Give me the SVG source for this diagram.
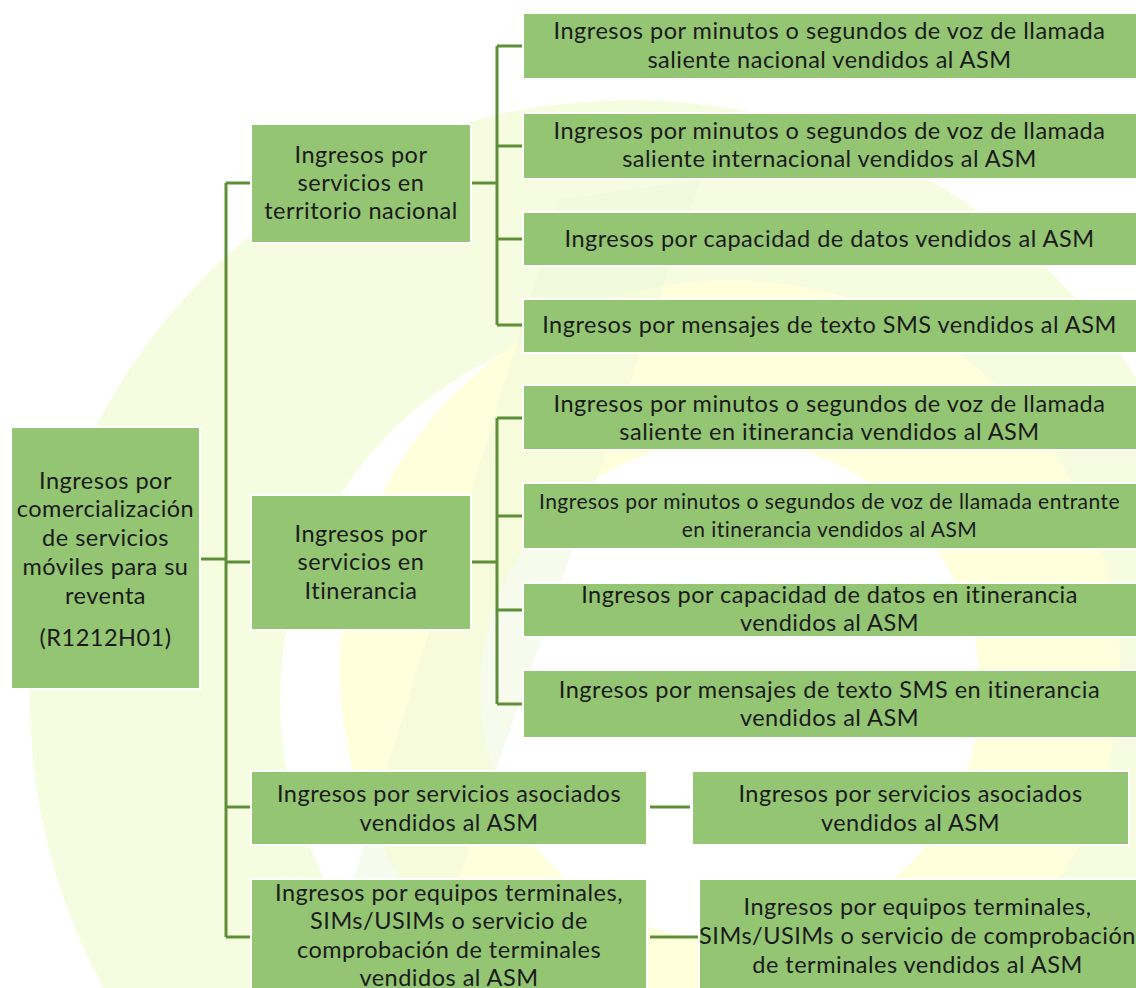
<svg xmlns="http://www.w3.org/2000/svg" width="1136" height="988" viewBox="0 0 1136 988">
<style>
.box{fill:#93c572;stroke:#ffffff;stroke-width:2}
.t{font-family:Lato,"Liberation Sans",sans-serif;font-size:23.5px;letter-spacing:0.5px;fill:#1a1a1a;text-anchor:middle}
.s{font-size:21px;letter-spacing:0.45px}
.c{fill:none;stroke:#5e8f38;stroke-width:3}
</style>
<rect width="1136" height="988" fill="#ffffff"/>
<g id="watermark">
<circle cx="630" cy="700" r="600" fill="#f6fcdf"/>
<circle cx="660" cy="700" r="380" fill="#ffffff"/>
<circle cx="730" cy="670" r="390" fill="#ffffdc"/>
<circle cx="730" cy="690" r="250" fill="#ffffff"/>
<path d="M560 200 L700 180 L420 990 L320 990 Z" fill="#edf8dc" opacity="0.5"/>
</g>
<g id="connectors">
<path class="c" d="M200 559 H226 M226 183 V937 M226 183 H251 M226 562 H251 M226 807 H251 M226 937 H251"/>
<path class="c" d="M471 183 H497 M497 46 V325 M497 46 H522 M497 146 H522 M497 239 H522 M497 325 H522"/>
<path class="c" d="M471 562 H497 M497 418 V704 M497 418 H522 M497 516 H522 M497 610 H522 M497 704 H522"/>
<path class="c" d="M650 807 H690"/>
<path class="c" d="M650 937 H698"/>
</g>
<g id="root">
<rect class="box" x="11" y="427" width="189" height="262"/>
<text class="t"><tspan x="105.5" y="489">Ingresos por</tspan><tspan x="105.5" y="517">comercialización</tspan><tspan x="105.5" y="546">de servicios</tspan><tspan x="105.5" y="575">móviles para su</tspan><tspan x="105.5" y="604">reventa</tspan><tspan x="105.5" y="646">(R1212H01)</tspan></text>
</g>
<g id="nacional">
<rect class="box" x="251" y="124" width="220" height="119"/>
<text class="t"><tspan x="361" y="163">Ingresos por</tspan><tspan x="361" y="191">servicios en</tspan><tspan x="361" y="219">territorio nacional</tspan></text>
</g>
<g id="itinerancia">
<rect class="box" x="251" y="495" width="220" height="135"/>
<text class="t"><tspan x="361" y="542">Ingresos por</tspan><tspan x="361" y="570">servicios en</tspan><tspan x="361" y="599">Itinerancia</tspan></text>
</g>
<g id="asociados">
<rect class="box" x="251" y="771" width="396" height="74"/>
<text class="t"><tspan x="449" y="802">Ingresos por servicios asociados</tspan><tspan x="449" y="831">vendidos al ASM</tspan></text>
</g>
<g id="equipos">
<rect class="box" x="251" y="879" width="396" height="115"/>
<text class="t"><tspan x="449" y="901">Ingresos por equipos terminales,</tspan><tspan x="449" y="929">SIMs/USIMs o servicio de</tspan><tspan x="449" y="958">comprobación de terminales</tspan><tspan x="449" y="986">vendidos al ASM</tspan></text>
</g>
<g id="leaf1">
<rect class="box" x="523" y="13" width="616" height="66"/>
<text class="t"><tspan x="829.5" y="39">Ingresos por minutos o segundos de voz de llamada</tspan><tspan x="829.5" y="68">saliente nacional vendidos al ASM</tspan></text>
</g>
<g id="leaf2">
<rect class="box" x="523" y="113" width="616" height="66"/>
<text class="t"><tspan x="829.5" y="139">Ingresos por minutos o segundos de voz de llamada</tspan><tspan x="829.5" y="167">saliente internacional vendidos al ASM</tspan></text>
</g>
<g id="leaf3">
<rect class="box" x="523" y="212" width="616" height="54"/>
<text class="t" x="829.5" y="247">Ingresos por capacidad de datos vendidos al ASM</text>
</g>
<g id="leaf4">
<rect class="box" x="523" y="299" width="616" height="54"/>
<text class="t" x="829.5" y="333">Ingresos por mensajes de texto SMS vendidos al ASM</text>
</g>
<g id="leaf5">
<rect class="box" x="523" y="385" width="616" height="65"/>
<text class="t"><tspan x="829.5" y="412">Ingresos por minutos o segundos de voz de llamada</tspan><tspan x="829.5" y="440">saliente en itinerancia vendidos al ASM</tspan></text>
</g>
<g id="leaf6">
<rect class="box" x="523" y="483" width="616" height="66"/>
<text class="t s"><tspan x="829.5" y="509">Ingresos por minutos o segundos de voz de llamada entrante</tspan><tspan x="829.5" y="537">en itinerancia vendidos al ASM</tspan></text>
</g>
<g id="leaf7">
<rect class="box" x="523" y="583" width="616" height="54"/>
<text class="t"><tspan x="829.5" y="603">Ingresos por capacidad de datos en itinerancia</tspan><tspan x="829.5" y="631">vendidos al ASM</tspan></text>
</g>
<g id="leaf8">
<rect class="box" x="523" y="670" width="616" height="68"/>
<text class="t"><tspan x="829.5" y="698">Ingresos por mensajes de texto SMS en itinerancia</tspan><tspan x="829.5" y="726">vendidos al ASM</tspan></text>
</g>
<g id="asociados-leaf">
<rect class="box" x="692" y="771" width="437" height="74"/>
<text class="t"><tspan x="910.5" y="802">Ingresos por servicios asociados</tspan><tspan x="910.5" y="831">vendidos al ASM</tspan></text>
</g>
<g id="equipos-leaf">
<rect class="box" x="699" y="879" width="440" height="115"/>
<text class="t"><tspan x="917.5" y="915">Ingresos por equipos terminales,</tspan><tspan x="917.5" y="944">SIMs/USIMs o servicio de comprobación</tspan><tspan x="917.5" y="973">de terminales vendidos al ASM</tspan></text>
</g>
</svg>
